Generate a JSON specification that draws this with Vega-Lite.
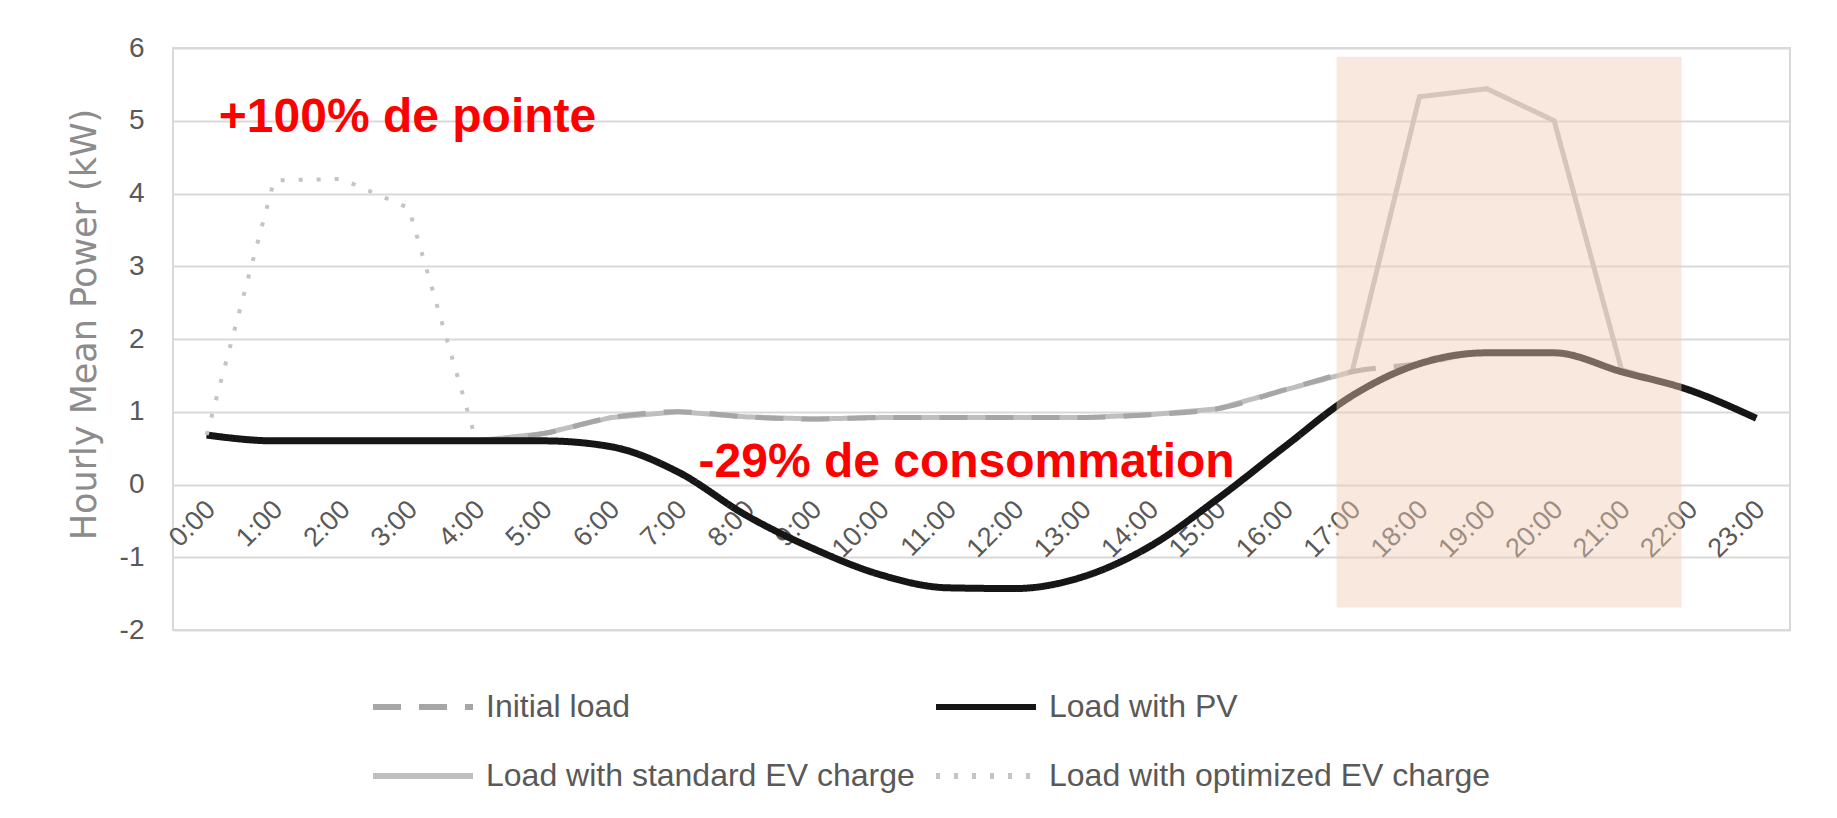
{
  "$schema": "https://vega.github.io/schema/vega-lite/v6.json",
  "width": 1617,
  "height": 582,
  "autosize": {"type": "none"},
  "padding": {"left": 173, "top": 48, "right": 47, "bottom": 188},
  "background": "white",
  "config": {
    "view": {"stroke": "#d9d9d9", "strokeWidth": 2},
    "font": "Liberation Sans"
  },
  "datasets": {
    "loads": [
      {"hour": 0, "series": "Initial load", "kw": 0.68},
      {"hour": 1, "series": "Initial load", "kw": 0.6},
      {"hour": 2, "series": "Initial load", "kw": 0.6},
      {"hour": 3, "series": "Initial load", "kw": 0.6},
      {"hour": 4, "series": "Initial load", "kw": 0.6},
      {"hour": 5, "series": "Initial load", "kw": 0.7},
      {"hour": 6, "series": "Initial load", "kw": 0.92},
      {"hour": 7, "series": "Initial load", "kw": 1.0},
      {"hour": 8, "series": "Initial load", "kw": 0.93},
      {"hour": 9, "series": "Initial load", "kw": 0.9},
      {"hour": 10, "series": "Initial load", "kw": 0.92},
      {"hour": 11, "series": "Initial load", "kw": 0.92},
      {"hour": 12, "series": "Initial load", "kw": 0.92},
      {"hour": 13, "series": "Initial load", "kw": 0.92},
      {"hour": 14, "series": "Initial load", "kw": 0.96},
      {"hour": 15, "series": "Initial load", "kw": 1.04},
      {"hour": 16, "series": "Initial load", "kw": 1.3},
      {"hour": 17, "series": "Initial load", "kw": 1.55},
      {"hour": 18, "series": "Initial load", "kw": 1.66},
      {"hour": 19, "series": "Initial load", "kw": 1.81},
      {"hour": 20, "series": "Initial load", "kw": 1.81},
      {"hour": 21, "series": "Initial load", "kw": 1.55},
      {"hour": 22, "series": "Initial load", "kw": 1.3},
      {"hour": 23, "series": "Initial load", "kw": 0.91},
      {"hour": 0, "series": "Load with PV", "kw": 0.68},
      {"hour": 1, "series": "Load with PV", "kw": 0.6},
      {"hour": 2, "series": "Load with PV", "kw": 0.6},
      {"hour": 3, "series": "Load with PV", "kw": 0.6},
      {"hour": 4, "series": "Load with PV", "kw": 0.6},
      {"hour": 5, "series": "Load with PV", "kw": 0.6},
      {"hour": 6, "series": "Load with PV", "kw": 0.52},
      {"hour": 7, "series": "Load with PV", "kw": 0.17},
      {"hour": 8, "series": "Load with PV", "kw": -0.42},
      {"hour": 9, "series": "Load with PV", "kw": -0.88},
      {"hour": 10, "series": "Load with PV", "kw": -1.24},
      {"hour": 11, "series": "Load with PV", "kw": -1.42},
      {"hour": 12, "series": "Load with PV", "kw": -1.43},
      {"hour": 13, "series": "Load with PV", "kw": -1.27},
      {"hour": 14, "series": "Load with PV", "kw": -0.85},
      {"hour": 15, "series": "Load with PV", "kw": -0.2},
      {"hour": 16, "series": "Load with PV", "kw": 0.52},
      {"hour": 17, "series": "Load with PV", "kw": 1.22},
      {"hour": 18, "series": "Load with PV", "kw": 1.66},
      {"hour": 19, "series": "Load with PV", "kw": 1.81},
      {"hour": 20, "series": "Load with PV", "kw": 1.81},
      {"hour": 21, "series": "Load with PV", "kw": 1.55},
      {"hour": 22, "series": "Load with PV", "kw": 1.3},
      {"hour": 23, "series": "Load with PV", "kw": 0.91},
      {"hour": 0, "series": "Load with standard EV charge", "kw": 0.68},
      {"hour": 1, "series": "Load with standard EV charge", "kw": 0.6},
      {"hour": 2, "series": "Load with standard EV charge", "kw": 0.6},
      {"hour": 3, "series": "Load with standard EV charge", "kw": 0.6},
      {"hour": 4, "series": "Load with standard EV charge", "kw": 0.6},
      {"hour": 5, "series": "Load with standard EV charge", "kw": 0.7},
      {"hour": 6, "series": "Load with standard EV charge", "kw": 0.92},
      {"hour": 7, "series": "Load with standard EV charge", "kw": 1.0},
      {"hour": 8, "series": "Load with standard EV charge", "kw": 0.93},
      {"hour": 9, "series": "Load with standard EV charge", "kw": 0.9},
      {"hour": 10, "series": "Load with standard EV charge", "kw": 0.92},
      {"hour": 11, "series": "Load with standard EV charge", "kw": 0.92},
      {"hour": 12, "series": "Load with standard EV charge", "kw": 0.92},
      {"hour": 13, "series": "Load with standard EV charge", "kw": 0.92},
      {"hour": 14, "series": "Load with standard EV charge", "kw": 0.96},
      {"hour": 15, "series": "Load with standard EV charge", "kw": 1.04},
      {"hour": 16, "series": "Load with standard EV charge", "kw": 1.3},
      {"hour": 17, "series": "Load with standard EV charge", "kw": 1.55},
      {"hour": 18, "series": "Load with standard EV charge", "kw": 5.33},
      {"hour": 19, "series": "Load with standard EV charge", "kw": 5.44},
      {"hour": 20, "series": "Load with standard EV charge", "kw": 5.0},
      {"hour": 21, "series": "Load with standard EV charge", "kw": 1.58},
      {"hour": 22, "series": "Load with standard EV charge", "kw": 1.3},
      {"hour": 23, "series": "Load with standard EV charge", "kw": 0.91},
      {"hour": 0, "series": "Load with optimized EV charge", "kw": 0.68},
      {"hour": 1, "series": "Load with optimized EV charge", "kw": 4.18},
      {"hour": 2, "series": "Load with optimized EV charge", "kw": 4.2},
      {"hour": 3, "series": "Load with optimized EV charge", "kw": 3.8},
      {"hour": 4, "series": "Load with optimized EV charge", "kw": 0.6}
    ],
    "notes": [
      {"note": "+100% de pointe"},
      {"note": "-29% de consommation"}
    ],
    "zones": [
      {"zone": "evening peak"}
    ]
  },
  "layer": [
    {
      "data": {"name": "loads"},
      "encoding": {
        "x": {
          "field": "hour",
          "type": "quantitative",
          "scale": {"domain": [-0.5, 23.5], "nice": false, "zero": false},
          "axis": {
            "values": [0,1,2,3,4,5,6,7,8,9,10,11,12,13,14,15,16,17,18,19,20,21,22,23],
            "labelExpr": "datum.value + ':00'",
            "labelAngle": -45,
            "labelAlign": "right",
            "labelBaseline": "middle",
            "labelFlush": false,
            "labelOverlap": false,
            "labelOffset": 4,
            "grid": false,
            "ticks": false,
            "domain": false,
            "offset": -127,
            "labelPadding": 2,
            "labelFont": "Liberation Sans",
            "labelFontSize": 27,
            "labelColor": "#595959",
            "title": null
          }
        },
        "y": {
          "field": "kw",
          "type": "quantitative",
          "scale": {"domain": [-2, 6], "nice": false, "zero": false},
          "axis": {
            "values": [-2,-1,0,1,2,3,4,5,6],
            "labelExpr": "datum.value < 0 ? '-' + abs(datum.value) : '' + datum.value",
            "grid": true,
            "gridColor": "#d9d9d9",
            "gridWidth": 2,
            "ticks": false,
            "domain": false,
            "labelFlush": false,
            "labelPadding": 29,
            "labelFont": "Liberation Sans",
            "labelFontSize": 28,
            "labelColor": "#595959",
            "title": "Hourly Mean Power (kW)",
            "titleFont": "DejaVu Sans",
            "titleFontSize": 35,
            "titleFontWeight": "normal",
            "titleColor": "#8c8c8c",
            "titleX": -89,
            "titleY": 276,
            "titleAngle": -90,
            "titleAlign": "center",
            "titleBaseline": "middle"
          }
        },
        "color": {
          "field": "series",
          "type": "nominal",
          "scale": {
            "domain": ["Initial load", "Load with PV", "Load with standard EV charge", "Load with optimized EV charge"],
            "range": ["#a6a6a6", "#161616", "#bfbfbf", "#c4c4c4"]
          },
          "legend": {
            "orient": "none",
            "direction": "horizontal",
            "legendX": 197,
            "legendY": 606,
            "columns": 2,
            "title": null,
            "symbolType": "stroke",
            "symbolSize": 10000,
            "symbolStrokeWidth": 6,
            "labelFont": "Liberation Sans",
            "labelFontSize": 32,
            "labelColor": "#595959",
            "labelOffset": 10,
            "labelLimit": 700,
            "columnPadding": 9,
            "rowPadding": -46
          }
        },
        "strokeDash": {
          "field": "series",
          "type": "nominal",
          "scale": {
            "domain": ["Initial load", "Load with PV", "Load with standard EV charge", "Load with optimized EV charge"],
            "range": [[28, 18], [1, 0], [1, 0], [4, 14]]
          }
        }
      },
      "layer": [
        {
          "transform": [{"filter": "datum.series === 'Load with standard EV charge'"}],
          "mark": {"type": "line", "strokeWidth": 5, "interpolate": "linear"}
        },
        {
          "transform": [{"filter": "datum.series === 'Initial load'"}],
          "mark": {"type": "line", "strokeWidth": 5, "interpolate": "monotone"}
        },
        {
          "transform": [{"filter": "datum.series === 'Load with PV'"}],
          "mark": {"type": "line", "strokeWidth": 7, "interpolate": "monotone"}
        },
        {
          "transform": [{"filter": "datum.series === 'Load with optimized EV charge'"}],
          "mark": {"type": "line", "strokeWidth": 4, "interpolate": "linear"}
        }
      ]
    },
    {
      "data": {"name": "zones"},
      "mark": {"type": "rect", "color": "#f2cbb4", "opacity": 0.45},
      "encoding": {
        "x": {"datum": 16.77, "type": "quantitative"},
        "x2": {"datum": 21.89},
        "y": {"datum": 5.88, "type": "quantitative"},
        "y2": {"datum": -1.69}
      }
    },
    {
      "data": {"name": "notes"},
      "transform": [{"filter": "datum.note === '+100% de pointe'"}],
      "mark": {"type": "text", "align": "left", "baseline": "alphabetic", "font": "Liberation Sans", "fontWeight": "bold", "fontSize": 48, "color": "#ff0000"},
      "encoding": {
        "x": {"datum": 0.18, "type": "quantitative"},
        "y": {"datum": 4.84, "type": "quantitative"},
        "text": {"field": "note", "type": "nominal"}
      }
    },
    {
      "data": {"name": "notes"},
      "transform": [{"filter": "datum.note === '-29% de consommation'"}],
      "mark": {"type": "text", "align": "left", "baseline": "alphabetic", "font": "Liberation Sans", "fontWeight": "bold", "fontSize": 48, "color": "#ff0000"},
      "encoding": {
        "x": {"datum": 7.3, "type": "quantitative"},
        "y": {"datum": 0.1, "type": "quantitative"},
        "text": {"field": "note", "type": "nominal"}
      }
    }
  ]
}
